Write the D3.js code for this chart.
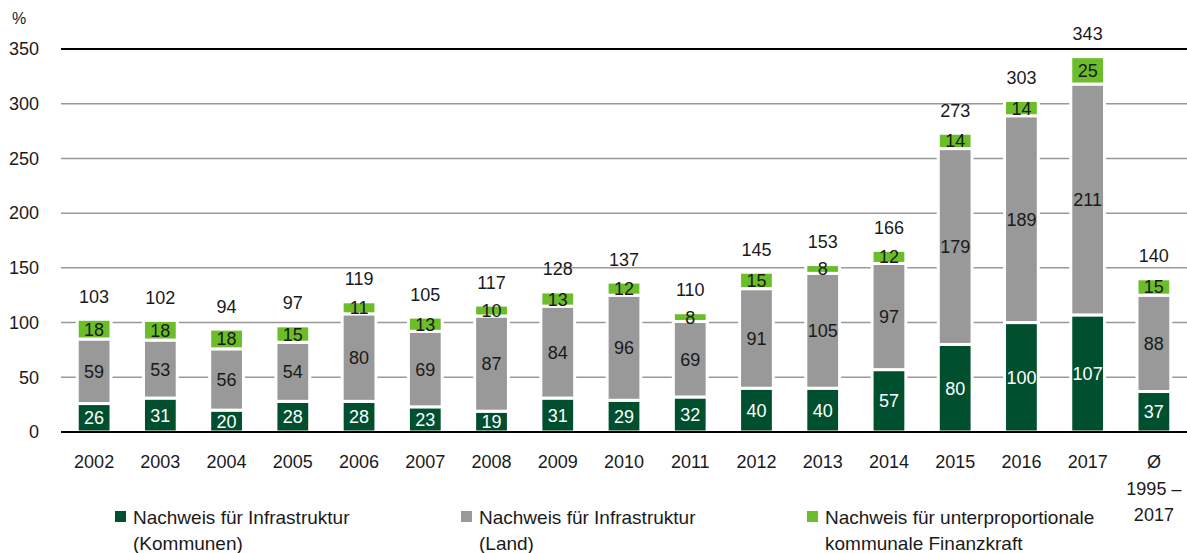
<!DOCTYPE html>
<html>
<head>
  <meta charset="utf-8"/>
  <title>Nachweis</title>
  <script src="https://d3js.org/d3.v7.min.js"></script>
  <style>
    body { margin: 0; background: #fff; }
    text { font-family: "Liberation Sans", Arial, sans-serif; }
  </style>
</head>
<body>
<div id="chart"></div>
<script>
var categories = ["2002","2003","2004","2005","2006","2007","2008","2009","2010","2011","2012","2013","2014","2015","2016","2017","avg"]
var catLabels = [["2002"],["2003"],["2004"],["2005"],["2006"],["2007"],["2008"],["2009"],["2010"],["2011"],["2012"],["2013"],["2014"],["2015"],["2016"],["2017"],["Ø","1995 –","2017"]]
var kommunen = [26,31,20,28,28,23,19,31,29,32,40,40,57,80,100,107,37]
var land = [59,53,56,54,80,69,87,84,96,69,91,105,97,179,189,211,88]
var finanz = [18,18,18,15,11,13,10,13,12,8,15,8,12,14,14,25,15]
var totals = [103,102,94,97,119,105,117,128,137,110,145,153,166,273,303,343,140]
var yTicks = [0,50,100,150,200,250,300,350]
var seriesNames = [["Nachweis für Infrastruktur","(Kommunen)"],["Nachweis für Infrastruktur","(Land)"],["Nachweis für unterproportionale","kommunale Finanzkraft"]]
var colors = ["#00502f","#999999","#6cbd2a"]
var textColors = ["#ffffff","#1a1a1a","#1a1a1a"]

var width = 1187, height = 553
var svg = d3.select("#chart").append("svg")
  .attr("width", width).attr("height", height)

var x = d3.scaleBand().domain(categories).range([61, 1187]).paddingInner(0.49).paddingOuter(0.245)
var y = d3.scaleLinear().domain([0, 350]).range([432, 49])

// gridlines
svg.selectAll(".grid").data(yTicks.filter(function(d){ return d > 0 }))
  .enter().append("line")
  .attr("x1", 61).attr("x2", 1187)
  .attr("y1", function(d){ return y(d) }).attr("y2", function(d){ return y(d) })
  .attr("stroke", function(d){ return d == 350 ? "#000" : "#999" })
  .attr("stroke-width", function(d){ return d == 350 ? 2 : 1.5 })

// y labels
svg.selectAll(".ylab").data(yTicks).enter().append("text")
  .attr("x", 39).attr("y", function(d){ return y(d) })
  .attr("dy", "0.35em").attr("text-anchor", "end")
  .attr("font-size", 18).attr("fill", "#1a1a1a")
  .text(function(d){ return d })
svg.append("text").attr("x", 12).attr("y", 24).attr("font-size", 16).attr("fill", "#1a1a1a").text("%")

// stacked data
var rows = categories.map(function(c, i){
  return {cat: c, k: kommunen[i], l: land[i], f: finanz[i]}
})
var stack = d3.stack().keys(["k","l","f"])(rows)

var layers = svg.selectAll(".layer").data(stack).enter().append("g")
layers.selectAll("rect").data(function(d){ return d.map(function(p){ return {p: p, key: d.key, idx: d.index} }) })
  .enter().append("rect")
  .attr("x", function(d){ return x(d.p.data.cat) })
  .attr("width", x.bandwidth())
  .attr("y", function(d){ return y(d.p[1]) })
  .attr("height", function(d){ return y(d.p[0]) - y(d.p[1]) })
  .attr("fill", function(d){ return colors[d.idx] })
  .attr("stroke", "#fff").attr("stroke-width", 3)

layers.selectAll("text").data(function(d){ return d.map(function(p){ return {p: p, key: d.key, idx: d.index} }) })
  .enter().append("text")
  .attr("x", function(d){ return x(d.p.data.cat) + x.bandwidth() / 2 })
  .attr("y", function(d){ return (y(d.p[0]) + y(d.p[1])) / 2 })
  .attr("dy", "0.36em").attr("text-anchor", "middle")
  .attr("font-size", 18)
  .attr("fill", function(d){ return textColors[d.idx] })
  .text(function(d){ return d.p.data[d.key] })

// axis line
svg.append("line").attr("x1", 61).attr("x2", 1187).attr("y1", y(0)).attr("y2", y(0))
  .attr("stroke", "#000").attr("stroke-width", 2)

// totals
svg.selectAll(".tot").data(categories).enter().append("text")
  .attr("x", function(d){ return x(d) + x.bandwidth() / 2 })
  .attr("y", function(d, i){ return y(kommunen[i] + land[i] + finanz[i]) - 23 })
  .attr("dy", "0.36em").attr("text-anchor", "middle")
  .attr("font-size", 18).attr("fill", "#1a1a1a")
  .text(function(d, i){ return totals[i] })

// x labels
var xl = svg.selectAll(".xlab").data(categories).enter().append("text")
  .attr("text-anchor", "middle").attr("font-size", 18).attr("fill", "#1a1a1a")
  .attr("transform", function(d){ return "translate(" + (x(d) + x.bandwidth() / 2) + ",468)" })
xl.selectAll("tspan").data(function(d, i){ return catLabels[i] })
  .enter().append("tspan")
  .attr("x", 0).attr("y", function(d, j){ return j * 26.5 })
  .text(function(d){ return d })

// legend
var legX = [115, 461, 807]
var leg = svg.selectAll(".leg").data(seriesNames).enter().append("g")
  .attr("transform", function(d, i){ return "translate(" + legX[i] + ",0)" })
leg.append("rect").attr("x", 0).attr("y", 511).attr("width", 11).attr("height", 11)
  .attr("fill", function(d, i){ return colors[i] })
var lt = leg.append("text").attr("font-size", 19).attr("fill", "#1a1a1a")
lt.selectAll("tspan").data(function(d){ return d }).enter().append("tspan")
  .attr("x", 18).attr("y", function(d, j){ return 524 + j * 26 })
  .text(function(d){ return d })
</script>
</body>
</html>
